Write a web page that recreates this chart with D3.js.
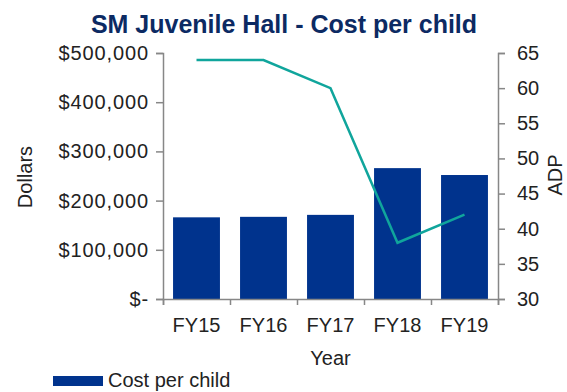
<!DOCTYPE html>
<html>
<head>
<meta charset="utf-8">
<script src="https://cdnjs.cloudflare.com/ajax/libs/d3/7.8.5/d3.min.js"></script>
<style>
  body { margin: 0; background: #fff; }
  svg text { font-family: "Liberation Sans", Arial, sans-serif; }
</style>
</head>
<body>
<svg id="chart"></svg>
<script>
const width = 567, height = 392;

// data
const years = ["FY15", "FY16", "FY17", "FY18", "FY19"];
const costPerChild = [166000, 167000, 171000, 266000, 252000];
const adp = [64, 64, 60, 38, 42];
const dollarTicks = [0, 100000, 200000, 300000, 400000, 500000];
const adpTicks = [30, 35, 40, 45, 50, 55, 60, 65];

const margin = {top: 53, right: 69, bottom: 93, left: 163};
const innerW = width - margin.left - margin.right;
const innerH = height - margin.top - margin.bottom;

const svg = d3.select("#chart")
  .attr("width", width)
  .attr("height", height);

const g = svg.append("g")
  .attr("transform", `translate(${margin.left},${margin.top})`);

const x = d3.scaleBand()
  .domain(years)
  .range([0, innerW])
  .paddingInner(0.3)
  .paddingOuter(0.15);

const yLeft = d3.scaleLinear().domain([0, 500000]).range([innerH, 0]);
const yRight = d3.scaleLinear().domain([30, 65]).range([innerH, 0]);

const axisColor = "#878787";
const fmt = d => d === 0 ? "$-" : "$" + d3.format(",")(d);

// bars
g.selectAll("rect.bar")
  .data(years)
  .enter().append("rect")
  .attr("class", "bar")
  .attr("x", d => x(d))
  .attr("width", x.bandwidth())
  .attr("y", (d, i) => yLeft(costPerChild[i]))
  .attr("height", (d, i) => innerH - yLeft(costPerChild[i]))
  .attr("fill", "#00338D");

// ADP line
g.append("path")
  .datum(years)
  .attr("fill", "none")
  .attr("stroke", "#10A59C")
  .attr("stroke-width", 2.5)
  .attr("d", d3.line()
    .x(d => x(d) + x.bandwidth() / 2)
    .y((d, i) => yRight(adp[i])));

// left axis
const leftAxis = g.append("g")
  .call(d3.axisLeft(yLeft).tickValues(dollarTicks).tickFormat(fmt).tickSize(7).tickPadding(7));
leftAxis.selectAll(".tick text").style("letter-spacing", "0.9px");

// right axis
const rightAxis = g.append("g")
  .attr("transform", `translate(${innerW},0)`)
  .call(d3.axisRight(yRight).tickValues(adpTicks).tickSize(7).tickPadding(12));

// x axis with ticks at category boundaries
const xEdge = d3.scaleLinear().domain([0, years.length]).range([0, innerW]);
const xAxis = g.append("g")
  .attr("transform", `translate(0,${innerH})`)
  .call(d3.axisBottom(xEdge).ticks(years.length).tickFormat("").tickSize(6));

g.append("g")
  .attr("transform", `translate(0,${innerH})`)
  .call(d3.axisBottom(x).tickSize(0).tickPadding(19))
  .call(a => a.select(".domain").remove());

[leftAxis, rightAxis, xAxis].forEach(a => {
  a.select(".domain").attr("stroke", axisColor).attr("stroke-width", 1.5);
  a.selectAll(".tick line").attr("stroke", axisColor).attr("stroke-width", 1.5);
});

g.selectAll(".tick text")
  .attr("fill", "#222")
  .style("font-size", "20px");

// title
svg.append("text")
  .attr("x", 284)
  .attr("y", 33)
  .attr("text-anchor", "middle")
  .attr("fill", "#0C2A63")
  .style("font-weight", "bold")
  .style("font-size", "25px")
  .text("SM Juvenile Hall - Cost per child");

// axis titles
svg.append("text")
  .attr("transform", "translate(32,177) rotate(-90)")
  .attr("text-anchor", "middle")
  .attr("fill", "#222")
  .style("font-size", "20px")
  .text("Dollars");

svg.append("text")
  .attr("transform", "translate(562,175) rotate(-90)")
  .attr("text-anchor", "middle")
  .attr("fill", "#222")
  .style("font-size", "20px")
  .text("ADP");

svg.append("text")
  .attr("x", margin.left + innerW / 2)
  .attr("y", 365)
  .attr("text-anchor", "middle")
  .attr("fill", "#222")
  .style("font-size", "20px")
  .text("Year");

// legend
svg.append("rect")
  .attr("x", 53)
  .attr("y", 376)
  .attr("width", 50)
  .attr("height", 10)
  .attr("fill", "#00338D");

svg.append("text")
  .attr("x", 108)
  .attr("y", 387)
  .attr("fill", "#222")
  .style("font-size", "20px")
  .text("Cost per child");
</script>
</body>
</html>
